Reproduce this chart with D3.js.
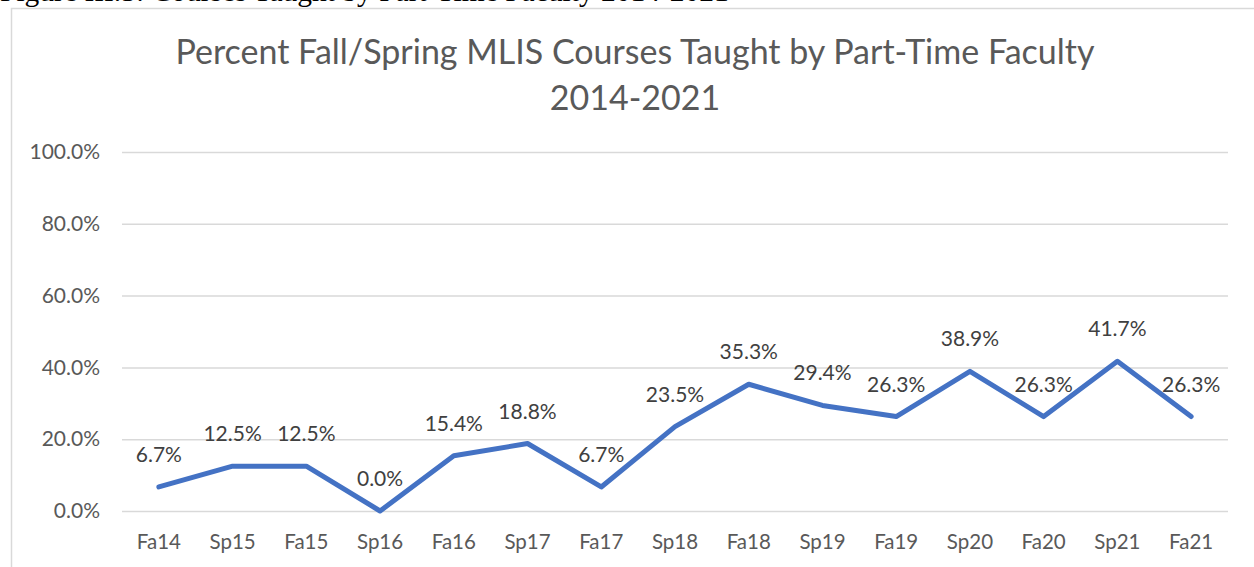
<!DOCTYPE html>
<html><head><meta charset="utf-8">
<script src="https://cdn.jsdelivr.net/npm/d3@7"></script>
<style>body{margin:0;background:#fff}svg{display:block}</style>
</head><body>
<svg id="c" width="1254" height="567"></svg>
<script>
const categories = ["Fa14","Sp15","Fa15","Sp16","Fa16","Sp17","Fa17","Sp18","Fa18","Sp19","Fa19","Sp20","Fa20","Sp21","Fa21"];
const values = [6.7,12.5,12.5,0.0,15.4,18.8,6.7,23.5,35.3,29.4,26.3,38.9,26.3,41.7,26.3];
const yTicks = [0,20,40,60,80,100];
const titleLines = ["Percent Fall/Spring MLIS Courses Taught by Part-Time Faculty","2014-2021"];
const caption = "Figure III.5: Courses Taught by Part-Time Faculty 2014-2021";

const svg = d3.select("#c");
const font = "Lato, 'Open Sans', sans-serif";
// caption (cut off at top, as in the reference)
svg.append("text").attr("x",0).attr("y",1).attr("font-family","'Liberation Serif', serif")
  .attr("font-size",29.5).attr("fill","#000").text(caption);
// chart border
svg.append("rect").attr("x",11.5).attr("y",8.5).attr("width",1260).attr("height",600)
  .attr("fill","#fff").attr("stroke","#d9d9d9").attr("stroke-width",1.5);

const x = d3.scaleBand().domain(categories).range([122,1228]);
const y = d3.scaleLinear().domain([0,100]).range([511,152]);

// title
svg.append("g").selectAll("text").data(titleLines).join("text")
  .attr("x",635).attr("y",(d,i)=>64+i*46).attr("text-anchor","middle")
  .attr("font-family",font).attr("font-size",34).attr("fill","#595959").text(d=>d);

// grid
const yAxis = d3.axisLeft(y).tickValues(yTicks).tickSize(-(1228-122)).tickFormat(d=>d.toFixed(1)+"%").tickPadding(22);
const gy = svg.append("g").attr("transform","translate(122,0)").call(yAxis);
gy.select(".domain").remove();
gy.selectAll(".tick line").attr("stroke","#d9d9d9").attr("stroke-width",1.5);
gy.selectAll(".tick text").attr("font-family",font).attr("font-size",21).attr("fill","#595959");

const xAxis = d3.axisBottom(x).tickSize(0).tickPadding(23);
const gx = svg.append("g").attr("transform","translate(0,511)").call(xAxis);
gx.select(".domain").remove();
gx.selectAll(".tick text").attr("font-family",font).attr("font-size",20.5).attr("fill","#595959");

const cx = d => x(d) + x.bandwidth()/2;
const line = d3.line().x((d,i)=>cx(categories[i])).y(d=>y(d));
svg.append("path").datum(values).attr("d",line).attr("fill","none")
  .attr("stroke","#4472C4").attr("stroke-width",5).attr("stroke-linejoin","round").attr("stroke-linecap","round");

svg.append("g").selectAll("text").data(values).join("text")
  .attr("x",(d,i)=>cx(categories[i])).attr("y",d=>y(d)-25).attr("text-anchor","middle")
  .attr("font-family",font).attr("font-size",21).attr("fill","#404040").text(d=>d.toFixed(1)+"%");
</script>
</body></html>
